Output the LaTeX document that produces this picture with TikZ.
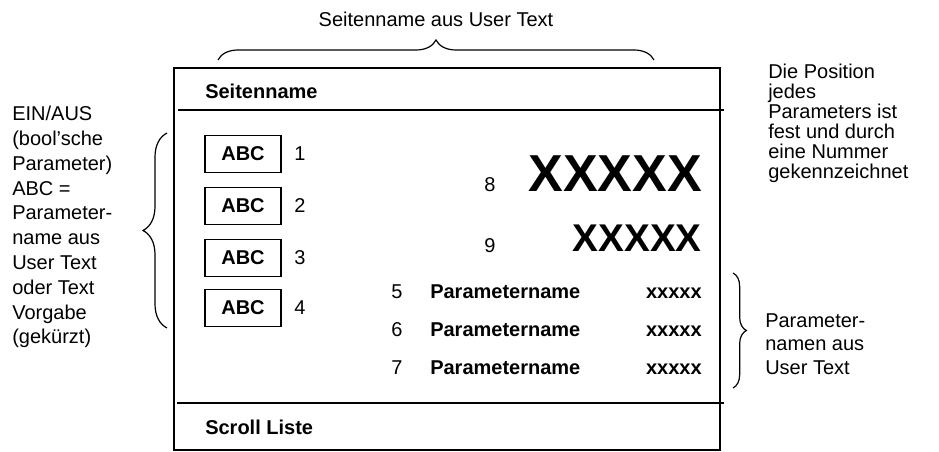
\documentclass[tikz,border=0pt]{standalone}
\usepackage{fontspec}
\setmainfont{Liberation Sans}
\usetikzlibrary{decorations.pathreplacing}
\begin{document}
\begin{tikzpicture}[x=0.75pt,y=-0.75pt,
  txt/.style={font=\fontsize{15}{18}\selectfont, inner sep=0pt},
  btxt/.style={font=\fontsize{15}{18}\selectfont\bfseries, inner sep=0pt},
  abcbox/.style={draw, line width=1.2pt, minimum width=57pt, minimum height=27.5pt, inner sep=0pt, font=\fontsize{15}{18}\selectfont\bfseries},
  frame/.style={line width=1.3pt},
  sepline/.style={line width=1.1pt},
  bracestyle/.style={decorate, decoration={brace, amplitude=#1}, line width=0.9pt}
]
\useasboundingbox (0,0) rectangle (939,452);
% title and top brace
\node[txt, anchor=base] (title) at (436,27) {Seitenname aus User Text};
\coordinate (tbl) at (218,60);
\coordinate (tbr) at (654,60);
\draw[bracestyle=15pt] (tbl) -- (tbr);
% frame
\draw[frame] (174,68) rectangle (720,450);
\coordinate (hl) at (178,110);
\coordinate (hr) at (724,110);
\coordinate (fl) at (177,403);
\coordinate (fr) at (724,403);
\draw[sepline] (hl) -- (hr);
\draw[sepline] (fl) -- (fr);
\node[btxt, anchor=base west] (head) at (205,99) {Seitenname};
\node[btxt, anchor=base west] (foot) at (205,434) {Scroll Liste};
% ABC boxes
\node[abcbox] (b1) at (243,154) {ABC};
\node[abcbox] (b2) at (243,206) {ABC};
\node[abcbox] (b3) at (243,258) {ABC};
\node[abcbox] (b4) at (243,308) {ABC};
\node[txt, anchor=base] (n1) at (300,161) {1};
\node[txt, anchor=base] (n2) at (300,213) {2};
\node[txt, anchor=base] (n3) at (300,265) {3};
\node[txt, anchor=base] (n4) at (300,315) {4};
% big values
\node[txt, anchor=base] (n8) at (490,192) {8};
\node[inner sep=0pt, anchor=base east, font=\fontsize{39}{44}\selectfont\bfseries] (v8) at (702,192) {XXXXX};
\node[txt, anchor=base] (n9) at (490,253) {9};
\node[inner sep=0pt, anchor=base east, font=\fontsize{29}{34}\selectfont\bfseries] (v9) at (702,252) {XXXXX};
% parameter rows
\node[txt, anchor=base] (n5) at (397,299) {5};
\node[btxt, anchor=base west] (p5) at (430,299) {Parametername};
\node[btxt, anchor=base east] (x5) at (702,299) {xxxxx};
\node[txt, anchor=base] (n6) at (397,337) {6};
\node[btxt, anchor=base west] (p6) at (430,337) {Parametername};
\node[btxt, anchor=base east] (x6) at (702,337) {xxxxx};
\node[txt, anchor=base] (n7) at (397,374) {7};
\node[btxt, anchor=base west] (p7) at (430,374) {Parametername};
\node[btxt, anchor=base east] (x7) at (702,374) {xxxxx};
% left annotation
\node[anchor=base west, align=left, inner sep=0pt, font=\fontsize{15}{18.6}\selectfont] (lt) at (12,344)
  {EIN/AUS\\(bool’sche\\Parameter)\\ABC =\\Parameter-\\name aus\\User Text\\oder Text\\Vorgabe\\(gekürzt)};
\coordinate (lbb) at (167,328);
\coordinate (lbt) at (167,133);
\draw[bracestyle=18pt] (lbb) -- (lbt);
% right annotations
\node[anchor=base west, align=left, inner sep=0pt, font=\fontsize{15}{15}\selectfont] (rt) at (768,179)
  {Die Position\\jedes\\Parameters ist\\fest und durch\\eine Nummer\\gekennzeichnet};
\coordinate (rbt) at (733,273);
\coordinate (rbb) at (733,388);
\draw[bracestyle=10pt] (rbt) -- (rbb);
\node[anchor=base west, align=left, inner sep=0pt, font=\fontsize{15}{17.5}\selectfont] (rl) at (765,374)
  {Parameter-\\namen aus\\User Text};
\end{tikzpicture}
\end{document}
